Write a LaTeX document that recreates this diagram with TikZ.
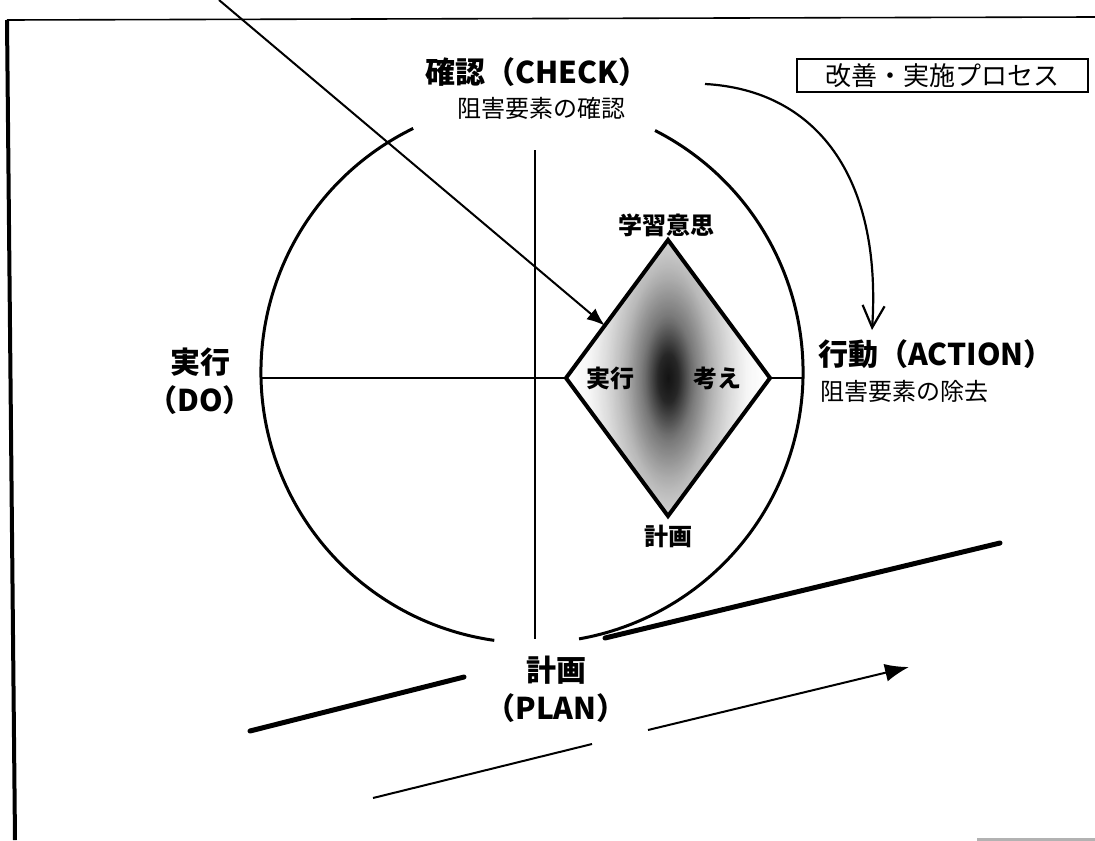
\documentclass[tikz,border=0pt]{standalone}
\usepackage{fontspec}
\newfontfamily\jp{Noto Sans CJK JP}
\usetikzlibrary{arrows.meta,calc}
\pgfdeclareradialshading{blob}{\pgfpoint{0bp}{0bp}}{color(0bp)=(black); color(2bp)=(black!92); color(5bp)=(black!58); color(9bp)=(black!30); color(13bp)=(black!12); color(17bp)=(white); color(50bp)=(white)}
\tikzset{
  lbl/.style={font=\jp\bfseries\fontsize{15pt}{17pt}\selectfont, inner sep=0pt},
  sublbl/.style={font=\jp\fontsize{12pt}{14pt}\selectfont, inner sep=0pt},
  dlbl/.style={font=\jp\bfseries\fontsize{12pt}{14pt}\selectfont, inner sep=0pt},
  ring/.style={line width=1.5pt},
  heavyline/.style={line width=2.5pt, line cap=round},
  thinline/.style={line width=1pt}
}
\begin{document}
\begin{tikzpicture}[x=0.5pt,y=-0.5pt]
\useasboundingbox (0,0) rectangle (1095,840);
% frame
\coordinate (ftl) at (7,20);
\coordinate (ftr) at (1095,17);
\coordinate (fbl) at (15,840);
\draw[line width=0.8pt] (ftl) -- (ftr);
\draw[line width=2pt] (ftl) -- (fbl);
\coordinate (gl) at (977,839);
\coordinate (gr) at (1095,839);
\draw[gray!60, line width=1.5pt] (gl) -- (gr);
% diamond corners
\coordinate (dT) at (668,240);
\coordinate (dR) at (770,378);
\coordinate (dB) at (668,516);
\coordinate (dL) at (566,378);
% shading
\begin{scope}
\clip (dT) -- (dR) -- (dB) -- (dL) -- cycle;
\shade[shading=blob, opacity=0.85] (668,378) ellipse [x radius=140, y radius=280];
\shade[shading=blob, opacity=0.5] (668,378) ellipse [x radius=115, y radius=320];
\end{scope}
\draw[line width=2pt, line join=miter] (dT) -- (dR) -- (dB) -- (dL) -- cycle;
% big circle arcs
\coordinate (C) at (532,372);
\draw[ring] ($(C)+(-116:271)$) arc[start angle=-116, end angle=-262, radius=271];
\draw[ring] ($(C)+(-63:271)$) arc[start angle=-63, end angle=80, radius=271];
% axes
\coordinate (vtop) at (535,150);
\coordinate (vbot) at (535,639);
\draw[line width=1pt] (vtop) -- (vbot);
\coordinate (hl) at (261,378);
\coordinate (hr) at (803,378);
\draw[line width=0.6pt] (hl) -- (dL);
\draw[line width=0.6pt] (dR) -- (hr);
% long arrow
\coordinate (lstart) at (219,0);
\draw[thinline, -{Latex[length=9pt,width=7pt]}] (lstart) -- ($(dL)!0.38!(dT)$);
% curved arrow
\coordinate (cstart) at (705,84);
\coordinate (cend) at (872,330);
\draw[line width=1.1pt, -{Straight Barb[length=11pt,width=11pt]}] (cstart) .. controls (815,90) and (882,175) .. (cend);
% bottom lines
\coordinate (a1) at (250,731); \coordinate (a2) at (464,677);
\coordinate (b1) at (605,638); \coordinate (b2) at (1000,543);
\coordinate (c1) at (648,730); \coordinate (c2) at (909,667);
\coordinate (e1) at (373,798); \coordinate (e2) at (592,744);
\draw[heavyline] (a1) -- (a2);
\draw[heavyline] (b1) -- (b2);
\draw[thinline, -{Latex[length=12pt,width=9pt]}] (c1) -- (c2);
\draw[thinline] (e1) -- (e2);
% labels
\node[lbl] (check) at (537,72) {確認（CHECK）};
\node[sublbl] (checksub) at (541,108) {阻害要素の確認};
\node[draw, line width=1pt, minimum width=145.5pt, minimum height=16.5pt, inner sep=0pt,
      font=\jp\fontsize{13pt}{15pt}\selectfont] (box) at (942.5,76) {改善・実施プロセス};
\node[lbl] (do1) at (200,362) {実行};
\node[lbl] (do2) at (200,400) {（DO）};
\node[lbl, anchor=west] (act) at (818,354) {行動（ACTION）};
\node[sublbl, anchor=west] (actsub) at (820,391) {阻害要素の除去};
\node[dlbl] (will) at (666,225) {学習意思};
\node[dlbl] (dexec) at (610,378) {実行};
\node[dlbl] (think) at (717,378) {考え};
\node[dlbl] (dplan) at (668,536) {計画};
\node[lbl] (plan1) at (556,670) {計画};
\node[lbl] (plan2) at (556,708) {（PLAN）};
\end{tikzpicture}
\end{document}
